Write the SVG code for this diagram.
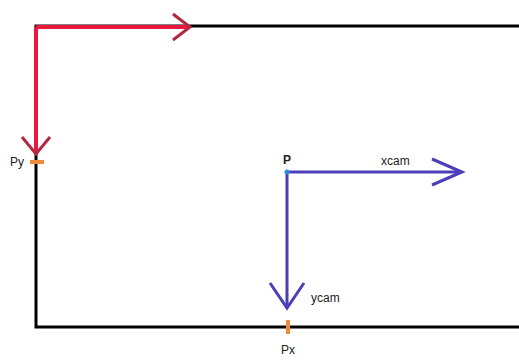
<svg xmlns="http://www.w3.org/2000/svg" width="519" height="360" viewBox="0 0 519 360">
<style>
.frame{fill:none;stroke:#000;stroke-width:3}
.red{fill:none;stroke:#e8193c;stroke-width:4}
.redh{fill:none;stroke:#b3283f;stroke-width:3}
.blue{fill:none;stroke:#4a3fb8;stroke-width:3}
.tick{stroke:#f08a3c;stroke-width:4}
text{font-family:"Liberation Sans",Arial,sans-serif;font-size:12px;fill:#222}
</style>
<rect width="519" height="360" fill="#fff"/>
<g id="frame"><path class="frame" d="M520,26 H36 V327 H520"/></g>
<g id="connectors">
<path class="red" d="M36,27 H188"/>
<path class="redh" d="M173,14 L190,27 L173,40"/>
<path class="red" d="M36,27 V153"/>
<path class="redh" d="M22,137 L36,154 L50,137"/>
<path class="blue" d="M287,172 H461"/>
<path class="blue" d="M432,159 L462,172 L432,185"/>
<path class="blue" d="M287,172 V307"/>
<path class="blue" d="M270,283 L287,308 L304,283"/>
</g>
<g id="py"><line class="tick" x1="30" y1="162" x2="44" y2="162"/><text x="10" y="166">Py</text></g>
<g id="px"><line class="tick" x1="288" y1="320" x2="288" y2="334"/><text x="281" y="354">Px</text></g>
<g id="p"><circle cx="287" cy="172" r="2.5" fill="#2a8ad8"/><text x="283" y="164" font-weight="bold">P</text></g>
<g id="xcam"><text x="381" y="165">xcam</text></g>
<g id="ycam"><text x="311" y="302">ycam</text></g>
</svg>
